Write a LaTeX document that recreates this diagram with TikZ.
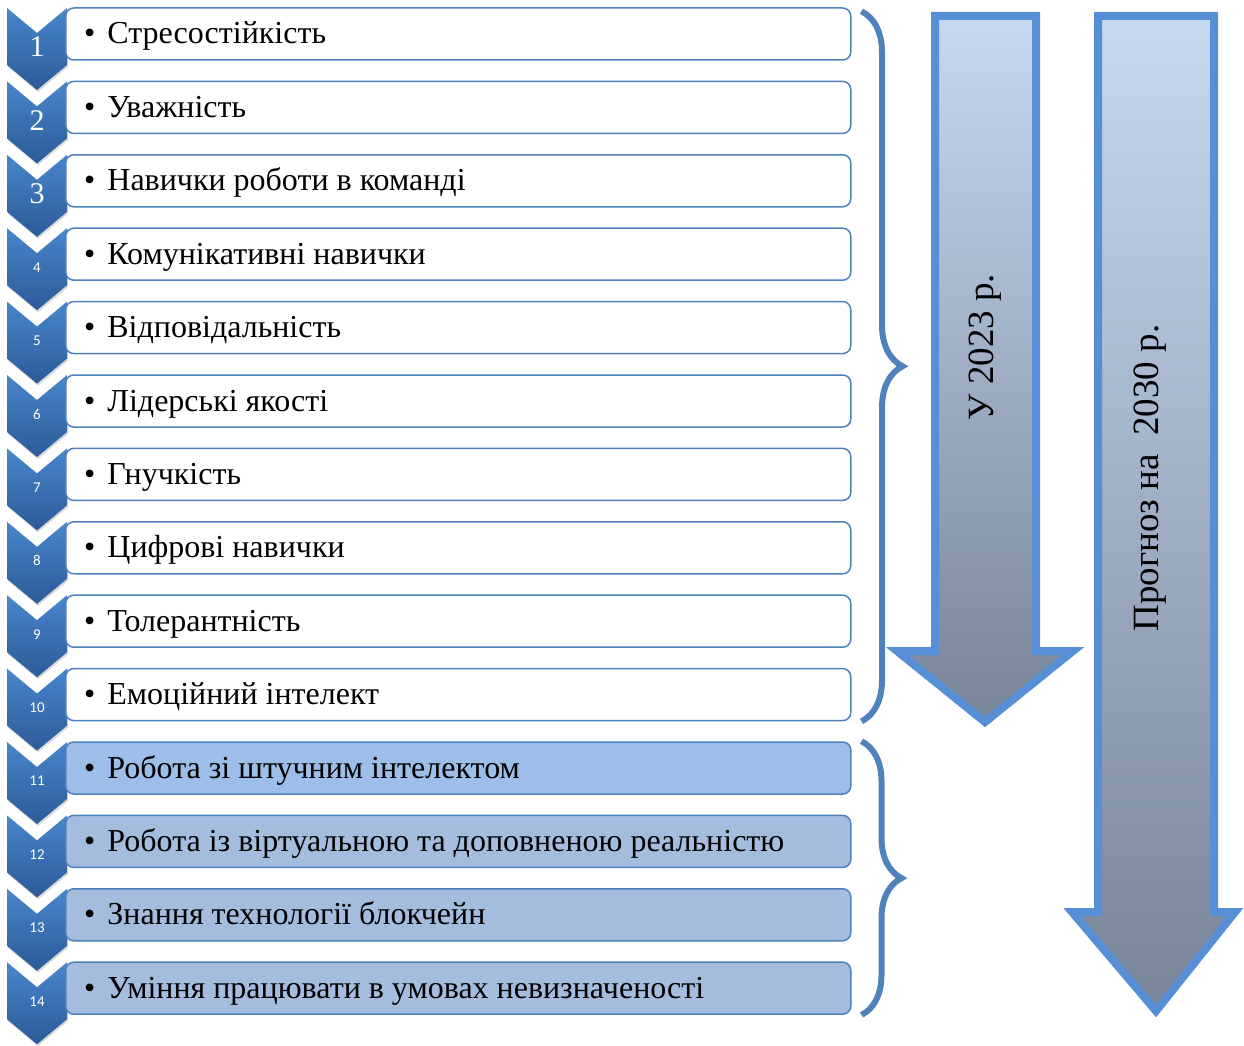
\documentclass[tikz,border=0pt]{standalone}
\usepackage{fontspec}
\setmainfont{Liberation Serif}
\newfontfamily\numfont{Carlito}
\usetikzlibrary{decorations.pathreplacing,shadows}
\definecolor{boxline}{RGB}{79,129,189}
\definecolor{chevtop}{RGB}{72,134,204}
\definecolor{chevbot}{RGB}{44,90,152}
\definecolor{newfill}{RGB}{157,190,232}
\definecolor{futfill}{RGB}{164,189,222}
\definecolor{arrline}{RGB}{86,143,213}
\definecolor{arrtop}{RGB}{198,217,240}
\definecolor{arrbot}{RGB}{120,132,151}

\begin{document}
\begin{tikzpicture}[x=1pt,y=1pt,
	skillbox/.style={draw=boxline,line width=1.5pt,rounded corners=8pt,minimum height=52pt,minimum width=785pt},
	skilltext/.style={anchor=base west,inner sep=0pt,font=\fontsize{32}{35}\selectfont},
	chevron/.style={top color=chevtop,bottom color=chevbot,drop shadow={opacity=0.3,shadow xshift=1pt,shadow yshift=-2pt}},
	chevnum/.style={text=white,inner sep=0pt},
	bracket/.style={draw=boxline,line width=6pt,decorate},
	bigarrow/.style={draw=arrline,line width=8pt,top color=arrtop,bottom color=arrbot},
	arrtext/.style={rotate=90,font=\fontsize{37}{40}\selectfont}]
	\useasboundingbox (0,0) rectangle (1244,-1046);
	\foreach \t/\f [count=\i] in {Стресостійкість/white,Уважність/white,Навички роботи в команді/white,
		Комунікативні навички/white,Відповідальність/white,Лідерські якості/white,Гнучкість/white,
		Цифрові навички/white,Толерантність/white,Емоційний інтелект/white,
		Робота зі штучним інтелектом/newfill,Робота із віртуальною та доповненою реальністю/futfill,
		Знання технології блокчейн/futfill,Уміння працювати в умовах невизначеності/futfill} {
		\pgfmathsetmacro{\cy}{-34-73.4*(\i-1)}
		\shade[chevron] (7,\cy+26) -- (37,\cy+1) -- (67,\cy+26) -- (67,\cy-31) -- (37,\cy-56) -- (7,\cy-31) -- cycle;
		\node[chevnum] (n\i) at (37,\cy-13) {\ifnum\i<4 \fontsize{30}{30}\selectfont\else\numfont\fontsize{15}{15}\selectfont\fi\i};
		\node[skillbox,fill=\f,anchor=west] (b\i) at (65,\cy) {};
		\node[skilltext] (t\i) at (84,\cy-10) {\textbullet\hspace{12pt}\t};
	}
	\draw[bracket,decoration={brace,amplitude=41pt}] ([xshift=10pt,yshift=-4pt]b1.north east) -- ([xshift=10pt]b10.south east);
	\draw[bracket,decoration={brace,amplitude=40pt}] ([xshift=10pt]b11.north east) -- ([xshift=10pt]b14.south east);
	\shade[bigarrow] (935,-16) -- (1036,-16) -- (1036,-651) -- (1073,-651) -- (985,-722) -- (897,-651) -- (935,-651) -- cycle;
	\shade[bigarrow] (1098,-16) -- (1214,-16) -- (1214,-912) -- (1235,-912) -- (1156,-1011) -- (1072,-912) -- (1098,-912) -- cycle;
	\node[arrtext] (y23) at (985,-347) {У 2023 р.};
	\node[arrtext] (p30) at (1150,-478) {Прогноз на\ \ 2030 р.};
\end{tikzpicture}
\end{document}
